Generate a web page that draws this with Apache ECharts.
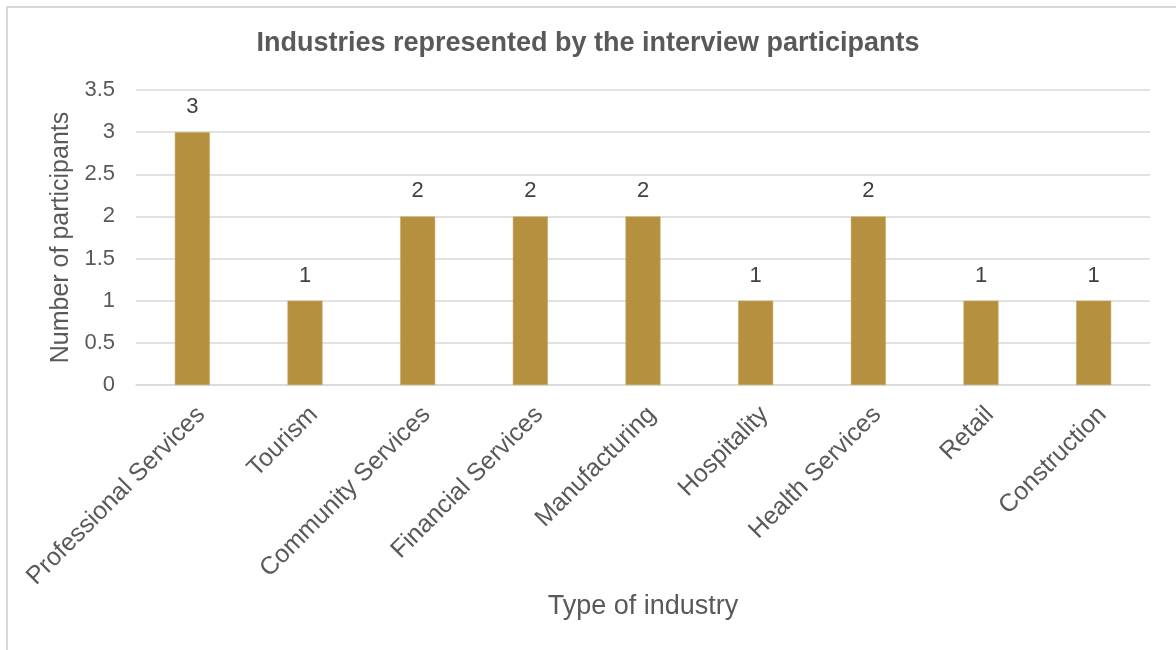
<!DOCTYPE html>
<html>
<head>
<meta charset="utf-8">
<script src="https://cdn.jsdelivr.net/npm/echarts@6/dist/echarts.min.js"></script>
<style>
  html, body { margin: 0; padding: 0; background: #fff; }
  #main { width: 1176px; height: 650px; }
</style>
</head>
<body>
<div id="main"></div>
<script>
const industries = [
  "Professional Services", "Tourism", "Community Services", "Financial Services",
  "Manufacturing", "Hospitality", "Health Services", "Retail", "Construction"
];
const participants = [3, 1, 2, 2, 2, 1, 2, 1, 1];

const textColor = "#595959";
const font = "'Liberation Sans', Arial, sans-serif";

const chart = echarts.init(document.getElementById("main"));

const option = {
  animation: false,
  textStyle: { fontFamily: font },
  title: {
    text: "Industries represented by the interview participants",
    left: "center",
    top: 25,
    textStyle: { color: textColor, fontSize: 27, fontWeight: "bold", fontFamily: font },
  },
  graphic: [
    {
      type: "rect",
      shape: { x: 7, y: 7, width: 1300, height: 800 },
      style: { fill: "none", stroke: "#d9d9d9", lineWidth: 2 },
      silent: true,
    },
  ],
  grid: {
    left: 136,
    right: 26,
    top: 90,
    bottom: 265,
    containLabel: false,
  },
  xAxis: {
    type: "category",
    data: industries,
    name: "Type of industry",
    nameLocation: "middle",
    nameGap: 207,
    nameTextStyle: { color: textColor, fontSize: 27, fontFamily: font },
    axisLine: { lineStyle: { color: "#d9d9d9", width: 1.5 } },
    axisTick: { show: false },
    axisLabel: {
      rotate: 45,
      interval: 0,
      verticalAlign: "top",
      color: textColor,
      fontSize: 25,
      margin: 17,
      fontFamily: font,
    },
  },
  yAxis: {
    type: "value",
    min: 0,
    max: 3.5,
    interval: 0.5,
    name: "Number of participants",
    nameLocation: "middle",
    nameGap: 54,
    nameTextStyle: { color: textColor, fontSize: 25, fontFamily: font },
    axisLine: { show: false },
    axisTick: { show: false },
    axisLabel: { color: textColor, fontSize: 22, margin: 21, fontFamily: font },
    splitLine: { lineStyle: { color: "#d9d9d9", width: 1.5 } },
  },
  series: [
    {
      type: "bar",
      data: participants,
      barWidth: 35,
      itemStyle: { color: "#b5913f", borderColor: "#c9a860", borderWidth: 0.5 },
      label: {
        show: true,
        position: "top",
        distance: 14,
        color: "#404040",
        fontSize: 22,
        fontFamily: font,
      },
    },
  ],
};

chart.setOption(option);
</script>
</body>
</html>
